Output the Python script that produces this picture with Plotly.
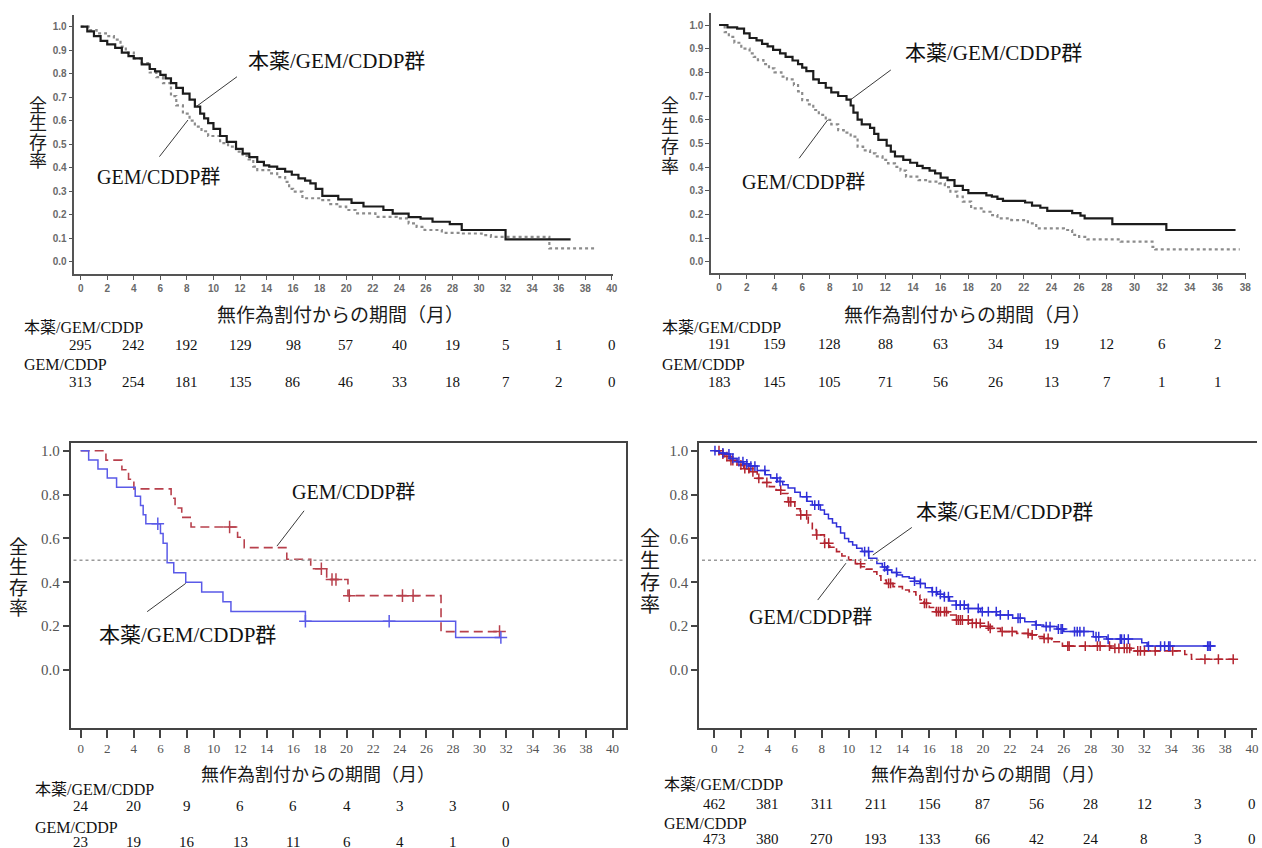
import numpy as np
import plotly.graph_objects as go

W, H = 1262, 848

# ---------------- Panel 1 (top-left) ----------------
p1_a_t = [0, 0.5, 1.0, 1.5, 2.0, 2.6, 3.1, 3.6, 4.0, 4.6, 5.2, 5.6, 6.0, 6.4, 6.8, 7.2, 7.7, 8.2, 8.6, 9.0,
          9.3, 9.6, 10.0, 10.5, 11.0, 11.7, 12.2, 12.7, 13.3, 13.8, 14.2, 14.8, 15.4, 15.9, 16.4, 16.9, 17.3,
          17.7, 18.2, 19.4, 20.4, 21.3, 22.8, 23.5, 24.7, 25.6, 26.5, 27.8, 28.7, 32.0, 36.9]
p1_a_s = [1.0, 0.98, 0.96, 0.94, 0.925, 0.91, 0.89, 0.875, 0.865, 0.84, 0.82, 0.81, 0.795, 0.78, 0.76, 0.74,
          0.715, 0.69, 0.66, 0.63, 0.61, 0.59, 0.565, 0.535, 0.51, 0.48, 0.46, 0.445, 0.425, 0.41, 0.405, 0.395,
          0.383, 0.37, 0.355, 0.345, 0.333, 0.31, 0.28, 0.265, 0.25, 0.235, 0.22, 0.205, 0.19, 0.183, 0.17,
          0.16, 0.135, 0.095, 0.095]
p1_b_t = [0, 0.6, 1.2, 1.9, 2.5, 3.0, 3.4, 4.0, 4.6, 5.2, 5.7, 6.2, 6.8, 7.2, 7.7, 8.2, 8.6, 9.1, 9.6, 10.5,
          11.1, 11.7, 12.2, 12.65, 13.0, 13.3, 14.2, 14.8, 15.4, 15.7, 16.0, 16.7, 18.2, 18.8, 19.4, 20.0, 20.7,
          22.2, 23.8, 24.7, 25.3, 25.9, 27.2, 28.7, 30.2, 30.9, 35.3, 38.7]
p1_b_s = [1.0, 0.985, 0.972, 0.96, 0.945, 0.915, 0.89, 0.865, 0.845, 0.805, 0.785, 0.76, 0.705, 0.665, 0.63,
          0.6, 0.575, 0.555, 0.535, 0.505, 0.49, 0.468, 0.45, 0.435, 0.405, 0.39, 0.376, 0.36, 0.34, 0.31,
          0.298, 0.27, 0.262, 0.245, 0.234, 0.22, 0.206, 0.191, 0.184, 0.163, 0.148, 0.135, 0.123, 0.12, 0.113,
          0.106, 0.057, 0.057]
p1_risk_t = [0, 4, 8, 12, 16, 20, 24, 28, 32, 36, 40]
p1_risk_a = [295, 242, 192, 129, 98, 57, 40, 19, 5, 1, 0]
p1_risk_b = [313, 254, 181, 135, 86, 46, 33, 18, 7, 2, 0]

# ---------------- Panel 2 (top-right) ----------------
p2_a_t = [0, 0.6, 1.3, 1.8, 2.2, 2.7, 3.1, 3.5, 3.9, 4.4, 4.8, 5.3, 5.7, 6.0, 6.3, 6.8, 7.2, 7.7, 8.1, 8.6,
          9.2, 9.5, 9.7, 10.0, 10.3, 10.9, 11.2, 11.5, 12.1, 12.4, 12.7, 13.3, 13.8, 14.3, 14.7, 15.2, 15.6,
          16.0, 16.5, 17.0, 17.6, 18.0, 19.3, 19.7, 20.1, 20.5, 22.1, 22.6, 23.2, 23.7, 25.5, 26.1, 26.4, 28.4,
          32.3, 37.3]
p2_a_s = [1.0, 0.99, 0.985, 0.965, 0.945, 0.935, 0.92, 0.91, 0.895, 0.88, 0.865, 0.85, 0.835, 0.82, 0.805,
          0.77, 0.755, 0.735, 0.715, 0.7, 0.685, 0.66, 0.63, 0.6, 0.58, 0.565, 0.54, 0.515, 0.49, 0.465, 0.445,
          0.43, 0.418, 0.405, 0.395, 0.385, 0.373, 0.355, 0.345, 0.32, 0.303, 0.29, 0.28, 0.275, 0.265, 0.257,
          0.25, 0.237, 0.228, 0.215, 0.205, 0.195, 0.183, 0.159, 0.134, 0.134]
p2_b_t = [0, 0.4, 0.7, 1.1, 1.6, 2.2, 2.5, 2.8, 3.2, 3.6, 4.0, 4.5, 4.9, 5.4, 5.7, 6.0, 6.4, 6.8, 7.2, 7.7,
          8.1, 8.6, 9.0, 9.5, 10.0, 10.4, 10.9, 11.3, 11.8, 12.2, 12.7, 13.1, 13.5, 14.4, 15.1, 15.9, 16.3,
          16.7, 17.2, 17.6, 18.2, 19.1, 19.6, 20.1, 21.1, 22.3, 22.9, 24.9, 25.5, 26.0, 26.6, 29.0, 31.3, 31.5,
          37.6]
p2_b_s = [1.0, 0.97, 0.95, 0.925, 0.9, 0.88, 0.865, 0.852, 0.835, 0.817, 0.8, 0.782, 0.77, 0.746, 0.72,
          0.683, 0.665, 0.641, 0.62, 0.599, 0.58, 0.556, 0.545, 0.528, 0.486, 0.47, 0.458, 0.445, 0.43, 0.415,
          0.401, 0.385, 0.359, 0.345, 0.338, 0.331, 0.315, 0.296, 0.275, 0.254, 0.225, 0.211, 0.197, 0.183,
          0.176, 0.162, 0.141, 0.134, 0.113, 0.105, 0.094, 0.085, 0.063, 0.052, 0.052]
p2_risk_t = [0, 4, 8, 12, 16, 20, 24, 28, 32, 36]
p2_risk_a = [191, 159, 128, 88, 63, 34, 19, 12, 6, 2]
p2_risk_b = [183, 145, 105, 71, 56, 26, 13, 7, 1, 1]

# ---------------- Panel 3 (bottom-left) ----------------
p3_a_t = [0, 0.6, 1.3, 2.0, 2.7, 4.1, 4.5, 4.7, 4.9, 6.0, 6.2, 6.5, 7.0, 7.9, 9.1, 10.7, 11.3, 16.9, 28.2, 31.6]
p3_a_s = [1.0, 0.958, 0.917, 0.875, 0.833, 0.792, 0.75, 0.708, 0.667, 0.622, 0.578, 0.489, 0.444, 0.4,
          0.356, 0.311, 0.267, 0.222, 0.148, 0.148]
p3_a_cens = [5.8, 16.9, 23.2, 31.6]
p3_b_t = [0, 1.9, 3.1, 3.6, 4.0, 6.8, 7.1, 7.6, 8.3, 11.8, 12.3, 15.5, 17.3, 18.5, 20.1, 27.1, 31.5]
p3_b_s = [1.0, 0.957, 0.913, 0.87, 0.826, 0.783, 0.739, 0.696, 0.652, 0.605, 0.558, 0.505, 0.462, 0.413,
          0.339, 0.175, 0.175]
p3_b_cens = [11.2, 18.1, 18.9, 19.2, 20.2, 24.2, 25.0, 31.5]
p3_risk_t = [0, 4, 8, 12, 16, 20, 24, 28, 32]
p3_risk_a = [24, 20, 9, 6, 6, 4, 3, 3, 0]
p3_risk_b = [23, 19, 16, 13, 11, 6, 4, 1, 0]

# ---------------- Panel 4 (bottom-right) ----------------
p4_a_t = [0, 0.4, 0.8, 1.2, 1.7, 2.2, 2.6, 3.2, 3.8, 4.2, 4.7, 5.1, 5.5, 6.0, 6.4, 6.9, 7.3, 7.9, 8.2, 8.5,
          8.8, 9.1, 9.4, 9.7, 10.0, 10.3, 10.6, 11.0, 11.5, 12.1, 12.5, 12.8, 13.2, 13.6, 14.0, 14.5, 14.9,
          15.3, 15.7, 16.2, 16.6, 17.1, 17.5, 18.0, 18.9, 19.8, 21.0, 22.2, 23.1, 23.9, 24.5, 25.5, 26.0, 28.2,
          29.2, 31.8, 32.2, 37.3]
p4_a_s = [1.0, 0.99, 0.985, 0.965, 0.95, 0.94, 0.93, 0.91, 0.89, 0.875, 0.86, 0.845, 0.83, 0.81, 0.79, 0.77,
          0.752, 0.73, 0.71, 0.69, 0.67, 0.653, 0.625, 0.6, 0.585, 0.57, 0.555, 0.54, 0.51, 0.486, 0.47, 0.456,
          0.445, 0.433, 0.425, 0.418, 0.405, 0.395, 0.375, 0.357, 0.345, 0.334, 0.315, 0.296, 0.281, 0.266,
          0.251, 0.236, 0.22, 0.205, 0.198, 0.187, 0.175, 0.152, 0.141, 0.124, 0.109, 0.109]
p4_a_cens = [0.06, 0.65, 1.1, 1.39, 1.84, 2.14, 2.43, 2.73, 3.03, 3.77, 4.66, 4.9, 6.88, 7.48, 7.77, 11.19,
             11.48, 12.67, 12.9, 13.56, 14.9, 15.34, 16.23, 16.53, 16.82, 17.12, 17.42, 18.0, 18.3, 18.6, 18.9,
             19.64, 19.94, 20.39, 20.98, 21.28, 21.87, 22.6, 22.76, 23.95, 24.69, 24.98, 25.6, 25.8, 25.9,
             26.8, 27.0, 27.2, 27.5, 28.4, 28.6, 29.3, 30.2, 30.3, 30.5, 30.8, 32.3, 33.2, 33.5, 33.8, 33.9,
             36.7, 36.8, 36.9]
p4_b_t = [0, 0.4, 0.8, 1.2, 1.7, 2.2, 2.6, 3.2, 3.6, 4.1, 4.6, 5.0, 5.5, 6.0, 6.4, 7.0, 7.3, 7.6, 8.2, 8.6,
          9.1, 9.5, 10.0, 10.5, 10.9, 11.3, 11.8, 12.1, 12.4, 12.8, 13.3, 14.0, 14.5, 15.0, 15.3, 15.6, 16.0,
          16.5, 17.4, 18.0, 19.2, 19.8, 20.4, 21.3, 22.5, 23.4, 24.0, 24.5, 25.1, 25.9, 29.5, 31.0, 35.0, 35.5,
          38.7]
p4_b_s = [1.0, 0.985, 0.973, 0.955, 0.935, 0.918, 0.904, 0.874, 0.855, 0.836, 0.82, 0.805, 0.767, 0.735,
          0.707, 0.669, 0.64, 0.616, 0.578, 0.56, 0.54, 0.52, 0.502, 0.485, 0.471, 0.46, 0.448, 0.43, 0.41,
          0.395, 0.38, 0.365, 0.357, 0.342, 0.32, 0.304, 0.285, 0.266, 0.251, 0.228, 0.213, 0.2, 0.19, 0.175,
          0.167, 0.16, 0.152, 0.144, 0.129, 0.109, 0.099, 0.087, 0.071, 0.049, 0.049]
p4_b_cens = [0.36, 0.65, 0.95, 1.25, 1.39, 1.99, 2.28, 2.58, 2.88, 3.32, 3.92, 4.95, 5.55, 5.7, 6.44, 6.88,
             7.63, 8.22, 8.52, 10.89, 12.97, 13.12, 15.64, 15.79, 16.53, 16.68, 16.83, 17.13, 17.28, 18.02,
             18.16, 18.31, 18.46, 18.9, 19.2, 19.49, 19.79, 20.39, 20.53, 21.42, 22.16, 23.35, 23.65, 24.54,
             24.84, 26.3, 26.4, 27.6, 28.5, 28.7, 29.4, 29.8, 30.1, 30.5, 30.7, 30.9, 31.5, 31.7, 32.0, 32.8,
             34.1, 36.5, 37.5, 38.6]
p4_risk_t = [0, 4, 8, 12, 16, 20, 24, 28, 32, 36, 40]
p4_risk_a = [462, 381, 311, 211, 156, 87, 56, 28, 12, 3, 0]
p4_risk_b = [473, 380, 270, 193, 133, 66, 42, 24, 8, 3, 0]

LBL_A = "本薬/GEM/CDDP"
LBL_B = "GEM/CDDP"
GRP_A = "本薬/GEM/CDDP群"
GRP_B = "GEM/CDDP群"
XTITLE = "無作為割付からの期間（月）"
YTITLE = "全生存率"

SERIF = "Liberation Serif, Times New Roman, Noto Sans CJK JP, serif"
SANS_JP = "Noto Sans CJK JP, sans-serif"
ARIAL = "Liberation Sans, Arial, sans-serif"


def px(x):
    return x / W


def py(y):
    return 1 - y / H


def step_at(ts, ss, t):
    i = np.searchsorted(np.array(ts), t, side="right") - 1
    return ss[max(i, 0)]


fig = go.Figure()

# top panels curves
for ax, (ta, sa, tb, sb) in [("", (p1_a_t, p1_a_s, p1_b_t, p1_b_s)), ("2", (p2_a_t, p2_a_s, p2_b_t, p2_b_s))]:
    fig.add_trace(go.Scatter(x=tb, y=sb, mode="lines", line=dict(color="#8c8c8c", width=2.2, dash="dot",
                                                                   shape="hv"),
                             xaxis="x" + ax, yaxis="y" + ax, showlegend=False, hoverinfo="skip"))
    fig.add_trace(go.Scatter(x=ta, y=sa, mode="lines", line=dict(color="#1c1c1c", width=2.2, shape="hv"),
                             xaxis="x" + ax, yaxis="y" + ax, showlegend=False, hoverinfo="skip"))

# bottom panels
BLUE3, RED3 = "#5a5ae8", "#b8404c"
BLUE4, RED4 = "#2f2fd8", "#b3242f"
for ax, ta, sa, ca, tb, sb, cb, blue, red, dash, msize in [
    ("3", p3_a_t, p3_a_s, p3_a_cens, p3_b_t, p3_b_s, p3_b_cens, BLUE3, RED3, "9px,5px", 9),
    ("4", p4_a_t, p4_a_s, p4_a_cens, p4_b_t, p4_b_s, p4_b_cens, BLUE4, RED4, "7px,3px", 7),
]:
    fig.add_trace(go.Scatter(x=tb, y=sb, mode="lines", line=dict(color=red, width=1.6, dash=dash, shape="hv"),
                             xaxis="x" + ax, yaxis="y" + ax, showlegend=False, hoverinfo="skip"))
    fig.add_trace(go.Scatter(x=cb, y=[step_at(tb, sb, c) for c in cb], mode="markers",
                             marker=dict(symbol="cross-thin", size=msize, line=dict(color=red, width=1.5)),
                             xaxis="x" + ax, yaxis="y" + ax, showlegend=False, hoverinfo="skip"))
    fig.add_trace(go.Scatter(x=ta, y=sa, mode="lines", line=dict(color=blue, width=1.5, shape="hv"),
                             xaxis="x" + ax, yaxis="y" + ax, showlegend=False, hoverinfo="skip"))
    fig.add_trace(go.Scatter(x=ca, y=[step_at(ta, sa, c) for c in ca], mode="markers",
                             marker=dict(symbol="cross-thin", size=msize, line=dict(color=blue, width=1.5)),
                             xaxis="x" + ax, yaxis="y" + ax, showlegend=False, hoverinfo="skip"))

top_x = dict(showline=True, linecolor="#555", linewidth=1.5, ticks="outside", ticklen=4, tickcolor="#555",
             tickwidth=1.2, showgrid=False, zeroline=False,
             tickfont=dict(family=ARIAL, size=10, color="#6a6a6a", weight="bold"))
top_y = dict(top_x, tickvals=[i / 10 for i in range(11)], ticktext=[f"{i / 10:.1f}" for i in range(11)])
bot_x = dict(showline=True, linecolor="#444", linewidth=2, ticks="outside", ticklen=8, tickcolor="#444",
             tickwidth=1.5, showgrid=False, zeroline=False, mirror=True,
             tickfont=dict(family=SERIF, size=13, color="#555"))
bot_y = dict(bot_x, tickvals=[0, 0.2, 0.4, 0.6, 0.8, 1.0], ticktext=["0.0", "0.2", "0.4", "0.6", "0.8", "1.0"],
             ticklen=6, tickfont=dict(family=SERIF, size=15, color="#555"))

fig.update_layout(
    width=W, height=H, margin=dict(l=0, r=0, t=0, b=0), paper_bgcolor="white", plot_bgcolor="white",
    xaxis=dict(top_x, domain=[px(74.7), px(615)], range=[(74.7 - 81) / 13.33, (615 - 81) / 13.33],
               tickvals=list(range(0, 41, 2)), anchor="y"),
    yaxis=dict(top_y, domain=[py(274), py(15)], range=[(261.7 - 274) / 235, (261.7 - 15) / 235], anchor="x"),
    xaxis2=dict(top_x, domain=[px(714), px(1251)], range=[(714 - 722) / 13.9, (1251 - 722) / 13.9],
                tickvals=list(range(0, 39, 2)), anchor="y2"),
    yaxis2=dict(top_y, domain=[py(273), py(13)], range=[(261.7 - 273) / 236.7, (261.7 - 13) / 236.7],
                anchor="x2"),
    xaxis3=dict(bot_x, domain=[px(71), px(628.5)], range=[(71 - 81) / 13.35, (628.5 - 81) / 13.35],
                tickvals=list(range(0, 41, 2)), anchor="y3"),
    yaxis3=dict(bot_y, domain=[py(727.7), py(443)], range=[(670 - 727.7) / 219.3, (670 - 443) / 219.3],
                anchor="x3"),
    xaxis4=dict(bot_x, domain=[px(702), 1.0], range=[(702 - 717) / 13.5, (1262 - 717) / 13.5],
                tickvals=list(range(0, 41, 2)), anchor="y4"),
    yaxis4=dict(bot_y, domain=[py(727.7), py(443)], range=[(670 - 727.7) / 219.3, (670 - 443) / 219.3],
                anchor="x4", mirror=False),
)

shapes = []
# median reference lines
for ax in ["3", "4"]:
    shapes.append(dict(type="line", xref=f"x{ax} domain", yref=f"y{ax}", x0=0.005, x1=0.998, y0=0.5, y1=0.5,
                       line=dict(color="#9a9a9a", width=1.5, dash="dot")))
# leader lines (data coords)
leaders = [
    ("", 11.77, 0.787, 8.70, 0.66), ("", 5.93, 0.447, 8.08, 0.603),
    ("2", 12.4, 0.81, 9.47, 0.683), ("2", 5.78, 0.437, 7.84, 0.599),
    ("3", 16.8, 0.726, 14.76, 0.565), ("3", 5.0, 0.266, 7.9, 0.395),
    ("4", 14.7, 0.65, 11.8, 0.524), ("4", 7.7, 0.319, 9.8, 0.487),
]
for ax, x0, y0, x1, y1 in leaders:
    shapes.append(dict(type="line", xref="x" + ax, yref="y" + ax, x0=x0, y0=y0, x1=x1, y1=y1,
                       line=dict(color="#3a3a3a", width=1)))
fig.update_layout(shapes=shapes)

ann = []
# group labels
for ax, text, x, y, size in [("", GRP_A, 19.3, 0.854, 21), ("", GRP_B, 5.85, 0.36, 20),
                             ("2", GRP_A, 19.8, 0.882, 21), ("2", GRP_B, 6.07, 0.338, 20),
                             ("3", GRP_B, 20.5, 0.812, 20), ("3", GRP_A, 8.0, 0.16, 21),
                             ("4", GRP_A, 21.6, 0.722, 21), ("4", GRP_B, 7.2, 0.24, 20)]:
    ann.append(dict(xref="x" + ax, yref="y" + ax, x=x, y=y, text=text, showarrow=False,
                    font=dict(family=SERIF, size=size, color="#111"), xanchor="center", yanchor="middle"))

# x-axis titles
for x, y, size in [(342, 313, 19), (971, 313, 19), (319, 773, 18), (992, 773, 18)]:
    ann.append(dict(xref="paper", yref="paper", x=px(x), y=py(y), text=XTITLE, showarrow=False,
                    font=dict(family=SANS_JP, size=size, color="#1a1a1a"), xanchor="center", yanchor="middle"))

# y-axis titles (stacked characters)
for x, y0, dy, size in [(38, 104, 18.5, 18), (673, 104, 20.5, 18), (19, 545, 20.5, 19), (653, 537, 22, 20)]:
    for k, ch in enumerate(YTITLE):
        ann.append(dict(xref="paper", yref="paper", x=px(x), y=py(y0 + k * dy), text=ch, showarrow=False,
                        font=dict(family=SANS_JP, size=size, color="#1a1a1a"), xanchor="center",
                        yanchor="middle"))

# number-at-risk tables
for ax, lx, rows, rt, ra, rb in [
    ("", 22.5, (327, 345, 364, 382), p1_risk_t, p1_risk_a, p1_risk_b),
    ("2", 663, (327, 344, 364, 382), p2_risk_t, p2_risk_a, p2_risk_b),
    ("3", 33, (789, 806, 827, 842), p3_risk_t, p3_risk_a, p3_risk_b),
    ("4", 665, (784, 804, 823, 839), p4_risk_t, p4_risk_a, p4_risk_b),
]:
    ann.append(dict(xref="paper", yref="paper", x=px(lx), y=py(rows[0]), text=LBL_A, showarrow=False,
                    font=dict(family=SERIF, size=16, color="#111"), xanchor="left", yanchor="middle"))
    ann.append(dict(xref="paper", yref="paper", x=px(lx), y=py(rows[2]), text=LBL_B, showarrow=False,
                    font=dict(family=SERIF, size=16, color="#111"), xanchor="left", yanchor="middle"))
    for t, a, b in zip(rt, ra, rb):
        ann.append(dict(xref="x" + ax, yref="paper", x=t, y=py(rows[1]), text=str(a), showarrow=False,
                        font=dict(family=SERIF, size=15, color="#111"), xanchor="center", yanchor="middle"))
        ann.append(dict(xref="x" + ax, yref="paper", x=t, y=py(rows[3]), text=str(b), showarrow=False,
                        font=dict(family=SERIF, size=15, color="#111"), xanchor="center", yanchor="middle"))

fig.update_layout(annotations=ann)
fig.write_html("out.html", config={"displayModeBar": False},
               post_script="document.body.style.margin='0';document.body.style.overflow='hidden';")
